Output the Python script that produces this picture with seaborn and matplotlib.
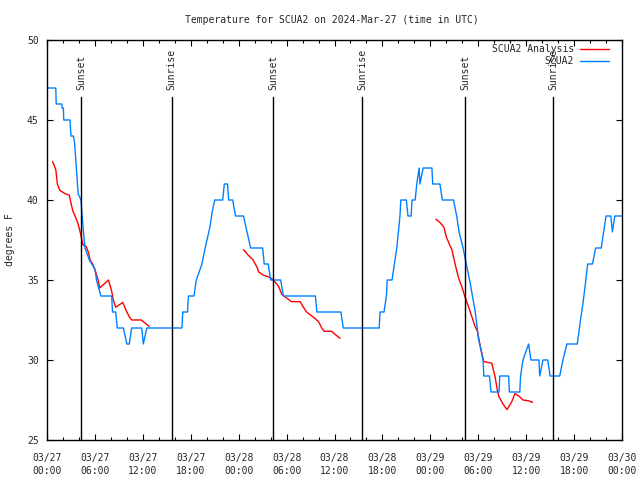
import numpy as np
import pandas as pd
import matplotlib
matplotlib.use("Agg")
import matplotlib.pyplot as plt
import seaborn as sns

# ---- data (hours since 2024-03-27 00:00 UTC, degrees F) ----
obs_hours = [0.0, 1.1, 1.15, 1.85, 1.9, 2.05, 2.1, 2.88, 3.0, 3.3,
             3.45, 3.9, 4.25, 4.55, 4.76, 5.3, 5.6, 6.0, 6.2, 6.75,
             8.1, 8.2, 8.6, 8.8, 9.56, 10.0, 10.3, 10.6, 11.86, 12.06,
             12.5, 16.9, 17.0, 17.6, 17.7, 18.4, 18.7, 19.4, 19.8, 20.4,
             20.7, 21.0, 22.0, 22.2, 22.6, 22.75, 23.25, 23.6, 24.6, 25.0,
             25.5, 27.0, 27.2, 27.7, 28.0, 29.26, 29.6, 33.6, 33.8, 36.8,
             37.1, 41.6, 41.7, 42.2, 42.5, 42.6, 43.2, 43.5, 43.8, 44.0,
             44.2, 44.3, 45.0, 45.2, 45.6, 45.7, 46.1, 46.3, 46.6, 46.7,
             47.1, 48.2, 48.3, 49.2, 49.5, 50.9, 51.3, 51.6, 52.1, 52.5,
             53.0, 53.2, 53.6, 53.85, 54.0, 54.6, 54.7, 55.4, 55.6, 56.6,
             56.7, 57.8, 57.9, 59.2, 59.3, 59.6, 60.3, 60.6, 61.6, 61.7,
             62.1, 62.7, 63.0, 64.2, 64.6, 65.1, 66.4, 66.8, 67.1, 67.4,
             67.7, 68.3, 68.7, 69.4, 69.7, 70.0, 70.6, 70.8, 71.1, 72.0]
obs_temps = [47, 47, 46, 46, 45.75, 45.75, 45, 45, 44, 44,
             43.6, 40.4, 40, 38.1, 37, 36.25, 36, 35.7, 35, 34,
             34, 33, 33, 32, 32, 31, 31, 32, 32, 31,
             32, 32, 33, 33, 34, 34, 35, 36, 37, 38.3,
             39.3, 40, 40, 41, 41, 40, 40, 39, 39, 38.1,
             37, 37, 36, 36, 35, 35, 34, 34, 33, 33,
             32, 32, 33, 33, 34, 35, 35, 36, 37, 38,
             39, 40, 40, 39, 39, 40, 40, 41, 42, 41,
             42, 42, 41, 41, 40, 40, 39, 38, 37, 36,
             34.8, 34.2, 33.1, 32.1, 31.4, 30, 29, 29, 28, 28,
             29, 29, 28, 28, 29, 30, 31, 30, 30, 29,
             30, 30, 29, 29, 30, 31, 31, 32.5, 33.5, 34.7,
             36, 36, 37, 37, 38, 39, 39, 38, 39, 39]

ana1_hours = [0.7, 1.1, 1.3, 1.6, 2.25, 2.8, 3.0, 3.25, 3.6, 3.9,
              4.2, 4.5, 4.9, 5.2, 5.4, 5.7, 6.1, 6.4, 6.6, 7.7,
              8.1, 8.3, 8.6, 9.5, 9.9, 10.3, 10.6, 11.8, 12.8]
ana1_temps = [42.4, 41.9, 41.0, 40.6, 40.4, 40.3, 39.8, 39.3, 38.9, 38.5,
              37.9, 37.2, 37.1, 36.7, 36.25, 36.0, 35.5, 35.0, 34.5, 35.0,
              34.3, 33.75, 33.3, 33.6, 33.1, 32.7, 32.5, 32.5, 32.1]
ana2_hours = [24.6, 25.2, 25.8, 26.3, 26.5, 27.1, 27.7, 28.1, 28.5, 29.0,
              29.4, 29.8, 30.6, 31.7, 32.1, 32.5, 33.3, 34.0, 34.4, 34.7,
              35.6, 36.2, 36.7]
ana2_temps = [36.9, 36.55, 36.25, 35.8, 35.5, 35.3, 35.2, 35.1, 34.9, 34.6,
              34.1, 33.95, 33.65, 33.65, 33.3, 33.0, 32.7, 32.4, 32.0, 31.8,
              31.8, 31.55, 31.35]
ana3_hours = [48.7, 49.2, 49.7, 50.0, 50.5, 50.7, 51.1, 51.5, 51.7, 52.0,
              52.3, 52.8, 53.2, 53.6, 53.9, 54.2, 54.55, 54.7, 55.7, 56.1,
              56.4, 56.6, 57.1, 57.6, 58.2, 58.6, 59.2, 59.6, 60.3, 60.8]
ana3_temps = [38.8, 38.6, 38.3, 37.7, 37.1, 36.9, 36.0, 35.2, 34.9, 34.5,
              34.0, 33.3, 32.7, 32.1, 31.8, 31.0, 30.2, 29.9, 29.8, 28.96,
              28.1, 27.7, 27.25, 26.9, 27.4, 27.9, 27.7, 27.5, 27.45, 27.35]

sun_hours = [4.3, 15.6, 28.34, 39.5, 52.4, 63.4]
sun_labels = ["Sunset", "Sunrise", "Sunset", "Sunrise", "Sunset", "Sunrise"]

tick_hours = list(range(0, 73, 6))
tick_labels = ["03/27\n00:00", "03/27\n06:00", "03/27\n12:00", "03/27\n18:00",
               "03/28\n00:00", "03/28\n06:00", "03/28\n12:00", "03/28\n18:00",
               "03/29\n00:00", "03/29\n06:00", "03/29\n12:00", "03/29\n18:00",
               "03/30\n00:00"]

# ---- build frames ----
obs = pd.DataFrame({"hour": obs_hours, "temp": obs_temps})
ana = pd.concat([
    pd.DataFrame({"hour": ana1_hours, "temp": ana1_temps, "seg": 1}),
    pd.DataFrame({"hour": ana2_hours, "temp": ana2_temps, "seg": 2}),
    pd.DataFrame({"hour": ana3_hours, "temp": ana3_temps, "seg": 3}),
], ignore_index=True)

sns.set_style("ticks")
plt.rcParams["font.family"] = ["DejaVu Sans Mono", "DejaVu Sans"]
plt.rcParams["font.size"] = 7

fig = plt.figure(figsize=(6.4, 4.8), dpi=100)
ax = fig.add_axes([47 / 640, 1 - 440 / 480, 575 / 640, 400 / 480])

RED = "#ff0000"
BLUE = "#0080ff"

sns.lineplot(data=ana, x="hour", y="temp", units="seg", estimator=None,
             sort=False, color=RED, lw=1.0, ax=ax, label="SCUA2 Analysis")
sns.lineplot(data=obs, x="hour", y="temp", estimator=None, sort=False,
             color=BLUE, lw=1.0, ax=ax, label="SCUA2")

for h, lab in zip(sun_hours, sun_labels):
    ax.axvline(h, ymin=0, ymax=0.857, color="black", lw=1.0)
    ax.text(h, 46.9, lab, rotation=90, ha="center", va="bottom", fontsize=7)

ax.set_xlim(0, 72)
ax.set_ylim(25, 50)
ax.set_xticks(tick_hours)
ax.set_xticklabels(tick_labels, linespacing=1.5)
ax.set_xticks(np.arange(0, 73, 2), minor=True)
ax.set_yticks([25, 30, 35, 40, 45, 50])
ax.tick_params(which="both", direction="in", top=True, right=True,
               labeltop=False, labelright=False, width=0.8, color="black")
ax.tick_params(which="major", length=4)
ax.tick_params(which="minor", length=2.2)
ax.tick_params(axis="x", which="major", pad=9, labelsize=7)
ax.tick_params(axis="y", which="major", pad=6, labelsize=7)
for s in ax.spines.values():
    s.set_visible(True)
    s.set_linewidth(1.0)
    s.set_color("black")
ax.set_xlabel("")
ax.set_ylabel("")

fig.text(332 / 640, 1 - 20 / 480, "Temperature for SCUA2 on 2024-Mar-27 (time in UTC)",
         ha="center", va="center", fontsize=7)
fig.text(10 / 640, 0.5, "degrees F", rotation=90, ha="center", va="center", fontsize=7)

handles, labels = ax.get_legend_handles_labels()
seen = {}
for hnd, lbl in zip(handles, labels):
    if lbl not in seen:
        seen[lbl] = hnd
leg = ax.legend(list(seen.values()), list(seen.keys()),
                loc="upper right", bbox_to_anchor=(0.977, 0.99), frameon=False,
                markerfirst=False, handlelength=3.0, handletextpad=0.6,
                labelspacing=0.25, borderpad=0, borderaxespad=0, fontsize=7)

fig.savefig("out.png", dpi=100)
